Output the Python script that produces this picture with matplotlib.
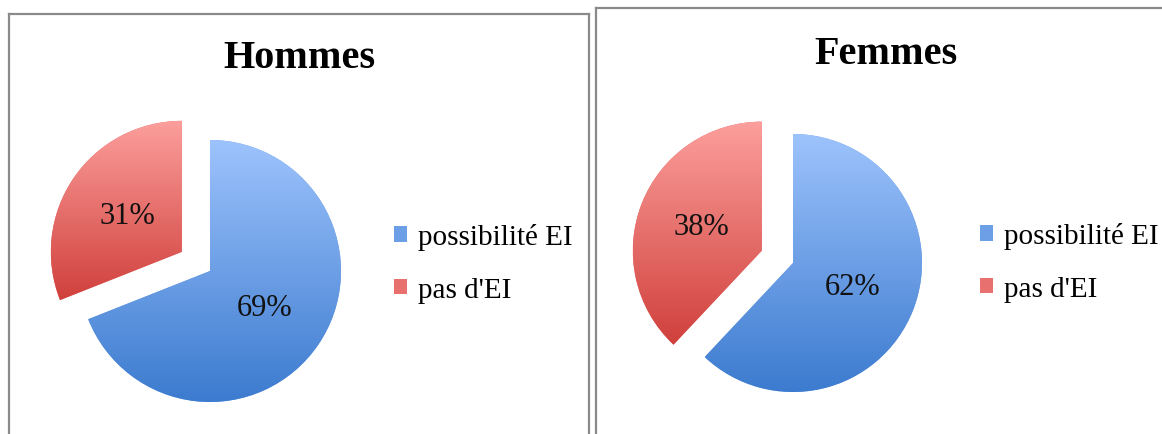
import numpy as np
import matplotlib
matplotlib.use("Agg")
import matplotlib.pyplot as plt
from matplotlib.colors import LinearSegmentedColormap

# données
categories = ["possibilité EI", "pas d'EI"]
hommes = [69, 31]
femmes = [62, 38]
titres = ["Hommes", "Femmes"]

plt.rcParams['font.family'] = ['Liberation Serif', 'DejaVu Serif']

W, H = 1162, 435
fig = plt.figure(figsize=(W / 100, H / 100), dpi=100)

# dégradés (bas foncé -> haut clair)
cmap_bleu = LinearSegmentedColormap.from_list("bleu", ["#3c7bcf", "#9dc3fc"])
cmap_rouge = LinearSegmentedColormap.from_list("rouge", ["#d0403c", "#fc9f9c"])
couleurs_legende = ["#6d9fe6", "#e87170"]


def px(x, y, w, h):
    # rectangle en pixels (origine en haut à gauche) -> fraction de figure
    return [x / W, (H - y - h) / H, w / W, h / H]


def panneau(box, centre, r, valeurs, titre, titre_y, leg_xy):
    # cadre gris
    cadre = fig.add_axes(px(*box))
    cadre.set_xticks([])
    cadre.set_yticks([])
    for s in cadre.spines.values():
        s.set_color("#8a8a8a")
        s.set_linewidth(1.6)
    fig.text((box[0] + box[2] / 2) / W, 1 - titre_y / H, titre,
             ha="center", va="center", fontsize=29, fontweight="bold")

    # camembert
    L = 1.5
    cx, cy = centre
    ax = fig.add_axes(px(cx - L * r, cy - L * r, 2 * L * r, 2 * L * r))
    wedges, texts, autotexts = ax.pie(valeurs, startangle=90, counterclock=False,
                                      explode=[0, 0.26], autopct="%1.0f%%",
                                      pctdistance=0.5, colors=couleurs_legende,
                                      textprops={"fontsize": 22, "color": "#111111"})
    for w, cm in zip(wedges, [cmap_bleu, cmap_rouge]):
        ext = w.get_path().get_extents()
        grad = np.linspace(0, 1, 256).reshape(-1, 1)
        im = ax.imshow(grad, extent=[ext.x0, ext.x1, ext.y0, ext.y1], origin="lower",
                       cmap=cm, aspect="auto", zorder=1.5)
        im.set_clip_path(w)
    ax.set_xlim(-L, L)
    ax.set_ylim(-L, L)
    ax.axis("off")

    leg = fig.legend(wedges, categories, loc="center left",
                     bbox_to_anchor=(leg_xy[0] / W, 1 - leg_xy[1] / H),
                     frameon=False, fontsize=21, handlelength=0.43, handleheight=0.43,
                     handletextpad=0.4, labelspacing=0.9, borderpad=0, borderaxespad=0)
    for h, c in zip(leg.legend_handles, couleurs_legende):
        h.set_facecolor(c)


panneau((9, 15, 580, 440), (210, 272), 131, hommes, titres[0], 58, (394, 264))
panneau((596, 9, 580, 440), (793, 264), 129, femmes, titres[1], 54, (980, 263))

fig.savefig("out.png", dpi=100)
